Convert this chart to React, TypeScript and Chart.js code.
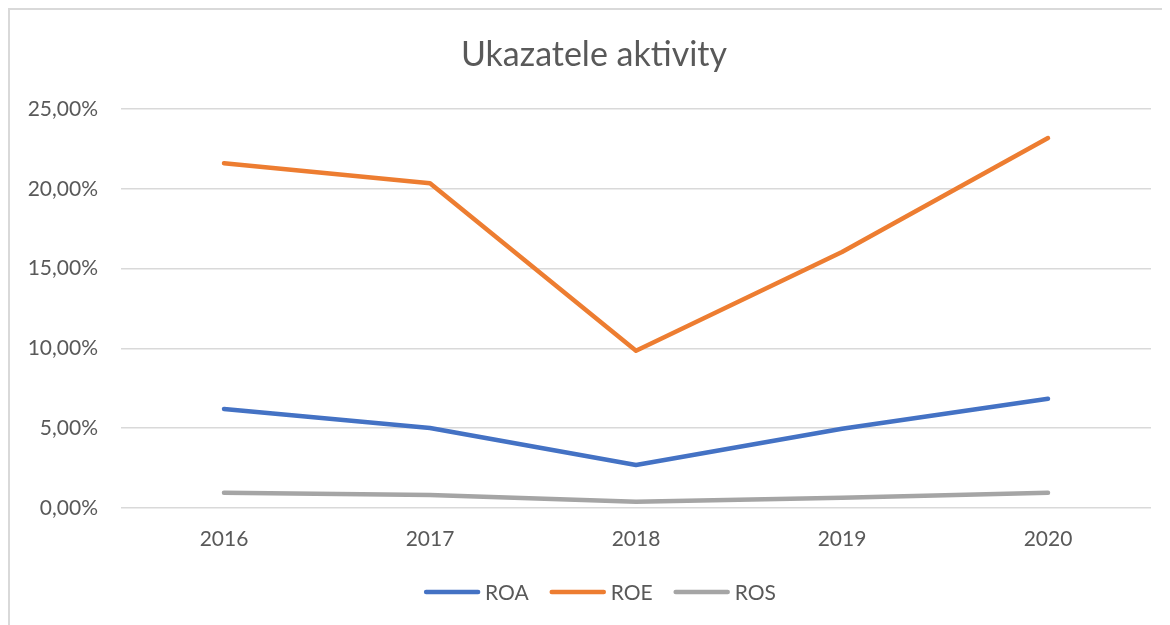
import React, { useEffect, useRef } from "react";
import { Chart, registerables } from "chart.js";

Chart.register(...registerables);

const years = ["2016", "2017", "2018", "2019", "2020"];
const roa = [6.2, 5.0, 2.68, 4.95, 6.83];
const roe = [21.6, 20.35, 9.84, 16.04, 23.18];
const ros = [0.94, 0.81, 0.38, 0.63, 0.94];
const yTicks = [0, 5, 10, 15, 20, 25];
const titleText = "Ukazatele aktivity";

const FONT = "Lato, 'Open Sans', sans-serif";
const TEXT = "#595959";

function fmt(v: number) {
  return v.toFixed(2).replace(".", ",") + "%";
}

const decorPlugin = {
  id: "excelDecor",
  afterDraw(chart: any) {
    const ctx = chart.ctx as CanvasRenderingContext2D;
    ctx.save();
    // title
    ctx.font = `34px ${FONT}`;
    ctx.fillStyle = TEXT;
    ctx.textAlign = "center";
    ctx.textBaseline = "middle";
    ctx.fillText(titleText, chart.width / 2 + 4, 45);

    // legend
    const ds = chart.data.datasets;
    const lineW = 56;
    const gapText = 5;
    const gapItem = 21;
    const y = 582;
    ctx.font = `21px ${FONT}`;
    const widths = ds.map((d: any) => lineW + gapText + ctx.measureText(d.label).width);
    const total = widths.reduce((a: number, b: number) => a + b, 0) + gapItem * (ds.length - 1);
    let x = chart.width / 2 + 10 - total / 2;
    ds.forEach((d: any, i: number) => {
      ctx.strokeStyle = d.borderColor;
      ctx.lineWidth = 4.5;
      ctx.lineCap = "round";
      ctx.beginPath();
      ctx.moveTo(x + 2, y);
      ctx.lineTo(x + lineW - 2, y);
      ctx.stroke();
      ctx.fillStyle = TEXT;
      ctx.textBaseline = "middle";
      ctx.textAlign = "left";
      ctx.fillText(d.label, x + lineW + gapText, y + 1);
      x += widths[i] + gapItem;
    });
    ctx.restore();
  },
};

export default function App() {
  const ref = useRef<HTMLCanvasElement | null>(null);
  useEffect(() => {
    document.body.style.overflow = "hidden";
    const ctx = ref.current!;
    const mk = (label: string, data: number[], color: string) => ({
      label,
      data,
      borderColor: color,
      backgroundColor: color,
      borderWidth: 4.5,
      borderCapStyle: "round" as const,
      borderJoinStyle: "round" as const,
      pointRadius: 0,
      pointHoverRadius: 0,
      tension: 0,
      fill: false,
    });
    const chart = new Chart(ctx, {
      type: "line",
      data: {
        labels: years,
        datasets: [
          mk("ROA", roa, "#4472C4"),
          mk("ROE", roe, "#ED7D31"),
          mk("ROS", ros, "#A5A5A5"),
        ],
      },
      plugins: [decorPlugin],
      options: {
        animation: false,
        responsive: false,
        layout: { padding: { left: 0, right: 19, top: 99, bottom: 54 } },
        plugins: {
          title: { display: false },
          legend: { display: false },
          tooltip: { enabled: false },
        },
        scales: {
          x: {
            offset: true,
            grid: { display: false, drawTicks: false },
            border: { display: false },
            ticks: {
              color: TEXT,
              font: { family: FONT, size: 21 },
              padding: 19,
            },
          },
          y: {
            min: 0,
            max: 25,
            afterFit: (s: any) => {
              s.width = 111;
            },
            afterBuildTicks: (s: any) => {
              s.ticks = yTicks.map((v) => ({ value: v }));
            },
            grid: { color: "#D9D9D9", lineWidth: 1.5, drawTicks: false },
            border: { display: false },
            ticks: {
              color: TEXT,
              font: { family: FONT, size: 21 },
              padding: 23,
              callback: (v: any) => fmt(Number(v)),
            },
          },
        },
      },
    });
    return () => chart.destroy();
  }, []);
  return (
    <div
      style={{
        width: 1162,
        height: 617,
        borderLeft: "2px solid #D9D9D9",
        borderTop: "2px solid #D9D9D9",
        boxSizing: "border-box",
        background: "#fff",
      }}
    >
      <canvas ref={ref} width={1160} height={615} style={{ display: "block" }} />
    </div>
  );
}
